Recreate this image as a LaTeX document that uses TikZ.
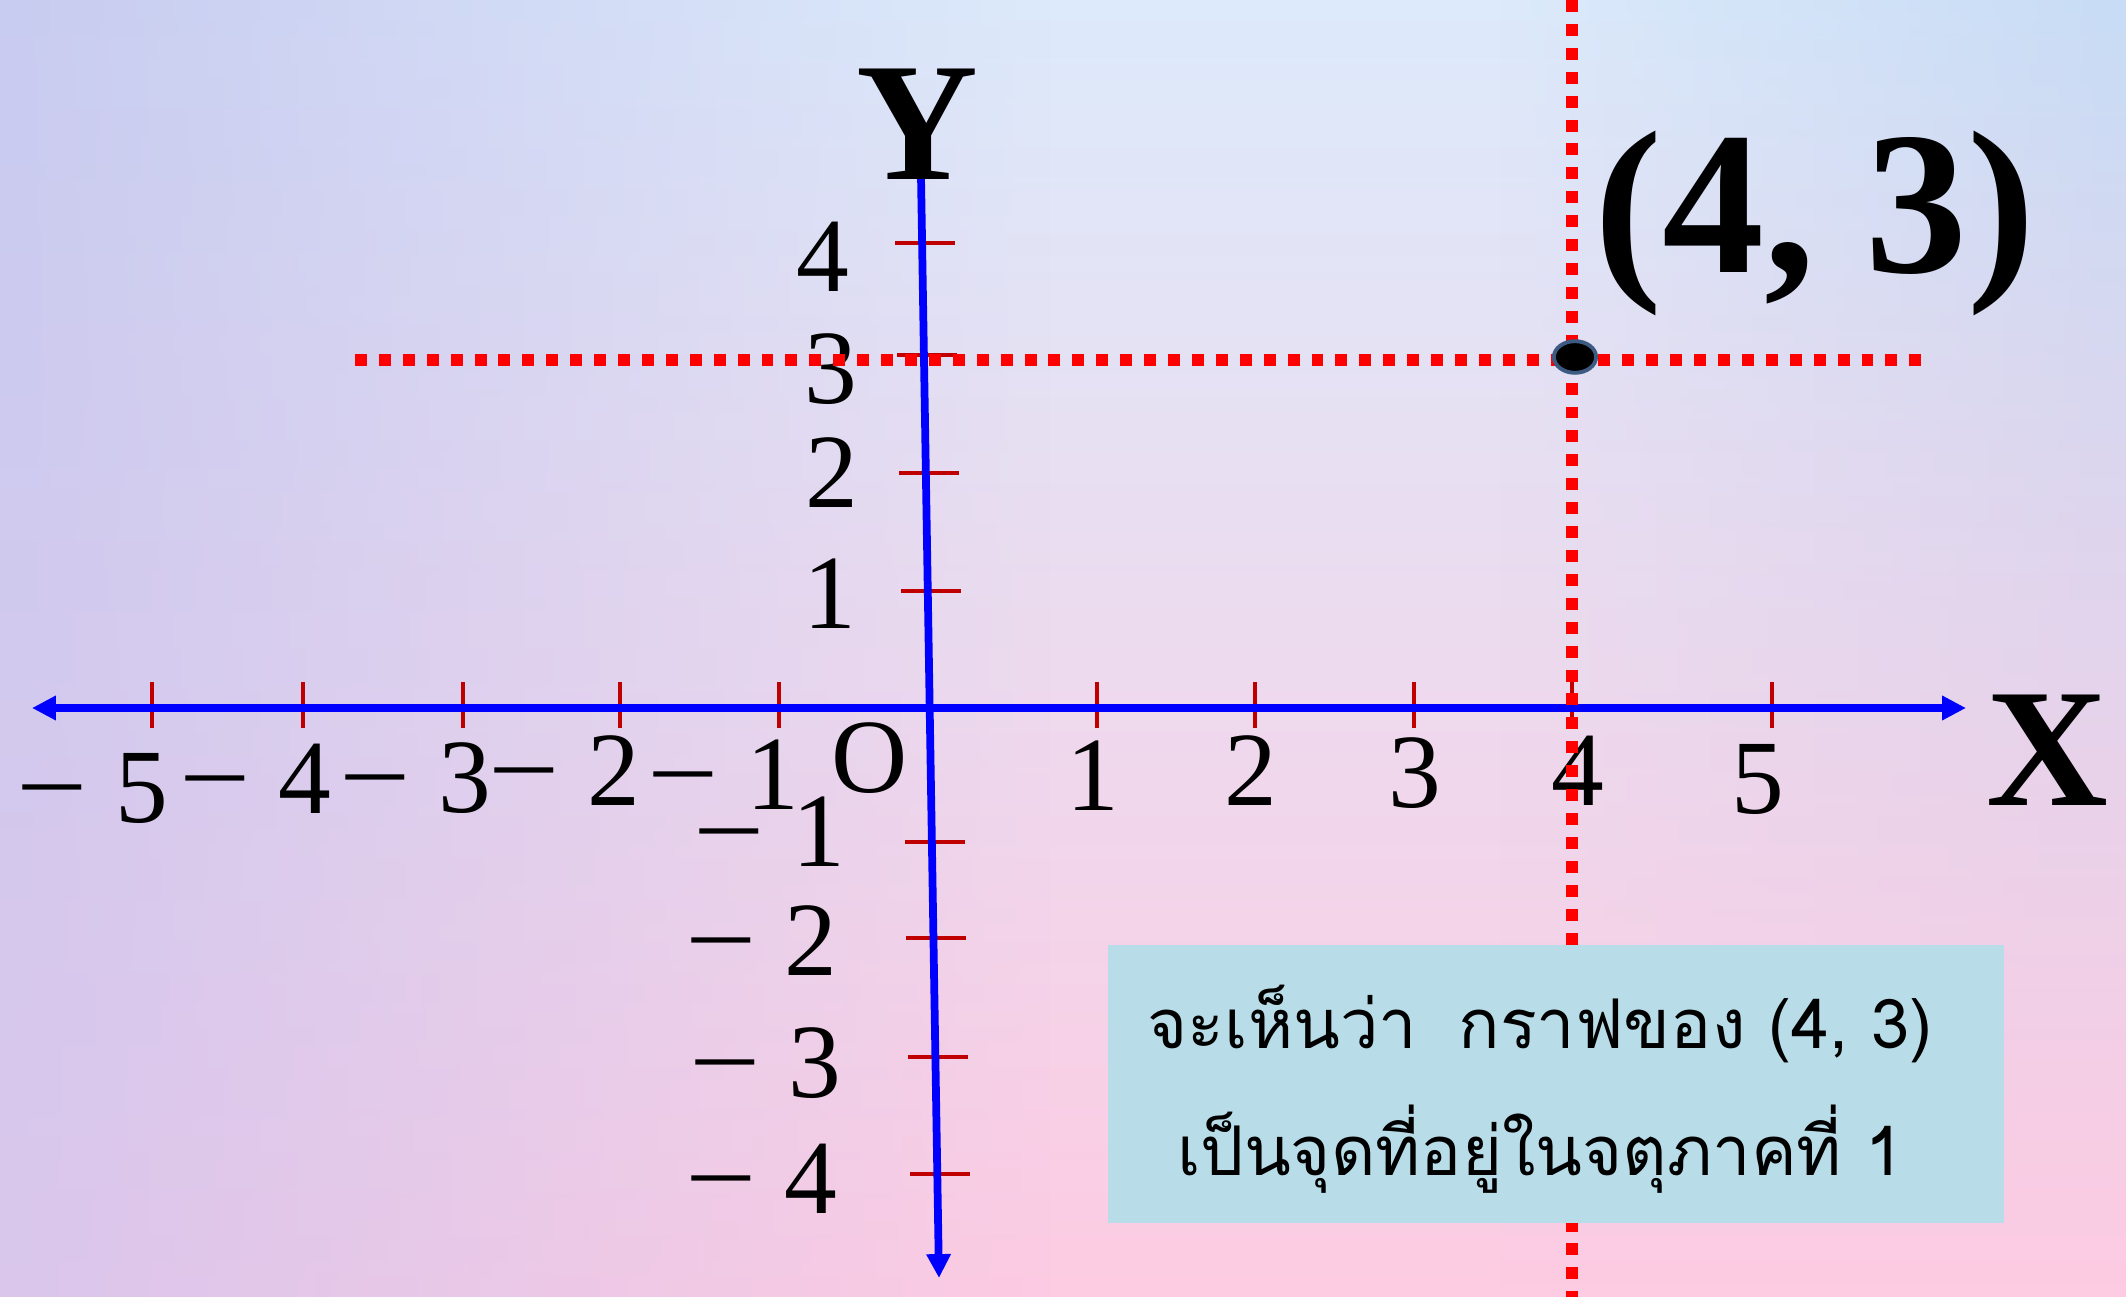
\documentclass[tikz,border=0pt]{standalone}
\usepackage{fontspec}
\usepackage{graphicx}
\setmainfont{Liberation Serif}
\newfontfamily\thaifont[Script=Thai]{Loma}
\usetikzlibrary{arrows.meta,positioning,calc,shapes.geometric,fadings}
\definecolor{SkyTop}{HTML}{DCEAFB}
\definecolor{LilacMid}{HTML}{F0DEF4}
\definecolor{PinkBot}{HTML}{FDCBE2}
\definecolor{LilacTopL}{HTML}{C8CCF0}
\definecolor{LilacBotL}{HTML}{DAC6EC}
\definecolor{SkyTopR}{HTML}{C8DCF5}
\definecolor{LilacMidR}{HTML}{DCD8F6}
\definecolor{AxisBlue}{HTML}{0000FF}
\definecolor{TickRed}{HTML}{C00000}
\definecolor{DotRed}{HTML}{FF0000}
\definecolor{BoxCyan}{HTML}{B8DDE8}
\definecolor{RimSlate}{HTML}{3C5A82}
\newcommand{\minuslab}{\llap{\scalebox{1.2}[1]{−}\hspace{8pt}}}
\tikzfading[name=fadeleft,left color=transparent!0,right color=transparent!100]
\tikzfading[name=faderight,left color=transparent!100,right color=transparent!0]

\begin{document}
\begin{tikzpicture}[x=0.01cm,y=-0.01cm,>={Triangle[length=6.8pt,width=6.6pt]},
  axisline/.style={line width=2.2pt,draw=AxisBlue},
  tickmark/.style={line width=1.3pt,draw=TickRed},
  guideline/.style={line width=3.4pt,draw=DotRed,dash pattern=on 3.4pt off 3.4pt},
  numlabel/.style={font=\fontsize{30}{32}\selectfont,anchor=base,inner sep=0pt},
  axislabel/.style={font=\fontsize{48}{50}\selectfont\bfseries,anchor=base,inner sep=0pt}]
  \useasboundingbox (0,0) rectangle (2126,1297);
  \shade[top color=SkyTop,middle color=LilacMid,bottom color=PinkBot] (0,0) rectangle (2126,1297);
  \shade[top color=LilacTopL,bottom color=LilacBotL,path fading=fadeleft] (0,0) rectangle (1050,1297);
  \shade[top color=SkyTopR,middle color=LilacMidR,bottom color=PinkBot,path fading=faderight] (1500,0) rectangle (2126,1297);

  \coordinate (xl) at (32,708);
  \coordinate (xr) at (1966,708);
  \coordinate (yt) at (921,176);
  \coordinate (yb) at (939,1278);
  \foreach \px in {152,303,463,620,779,1097,1255,1414,1572,1772}
    \draw[tickmark] (\px,682) -- (\px,728);
  \foreach \py in {243,355,473,591,842,938,1057,1174}
    \draw[tickmark] ($(yt)!{(\py-176)/1102}!(yb)+(-27,0)$) -- ($(yt)!{(\py-176)/1102}!(yb)+(33,0)$);
  \draw[axisline,<->] (xl) -- (xr);
  \draw[axisline,->] (yt) -- (yb);

  \foreach \v/\px/\py in {5/142/822,4/305/813,3/465/812,2/614/805,1/773/809}
    \node[numlabel] (xm\v) at (\px,\py) {\minuslab\v};
  \foreach \v/\px/\py in {1/1093/810,2/1251/805,3/1415/807,4/1578/805,5/1758/813}
    \node[numlabel] (xp\v) at (\px,\py) {\v};
  \foreach \v/\px/\py in {4/823/292,3/831/403,2/832/508,1/830/628}
    \node[numlabel] (yp\v) at (\px,\py) {\v};
  \foreach \v/\px/\py in {1/819/866,2/811/975,3/815/1097,4/811/1213}
    \node[numlabel] (ym\v) at (\px,\py) {\minuslab\v};
  \node[numlabel] (orig) at (870,792) {O};
  \node[axislabel] (ylab) at (917,180) {Y};
  \node[axislabel] (xlab) at (2047,805) {X};
  \node[font=\fontsize{58}{60}\selectfont\bfseries,anchor=base,inner sep=0pt] (ptlab) at (1815,273) {(4, 3)};

  \coordinate (gw) at (355,360);
  \coordinate (ge) at (1927,360);
  \coordinate (gn) at (1572,0);
  \coordinate (gs) at (1572,1297);
  \draw[guideline] (gw) -- (ge);
  \draw[guideline] (gn) -- (gs);
  \node[ellipse,draw=RimSlate,fill=black,line width=1.1pt,minimum width=12pt,minimum height=9pt,inner sep=0pt] (pt43) at (1575,357) {};

  \node[fill=BoxCyan,minimum width=255pt,minimum height=79pt,inner sep=0pt,align=center,text depth=2pt,
    font=\thaifont\fontsize{19.5}{36}\selectfont] (note) at (1556,1084)
    {จะเห็นว่า\hspace{0.6em}กราฟของ (4, 3)\hspace*{9pt}\\เป็นจุดที่อยู่ในจตุภาคที่ 1\hspace*{9pt}};
\end{tikzpicture}
\end{document}
